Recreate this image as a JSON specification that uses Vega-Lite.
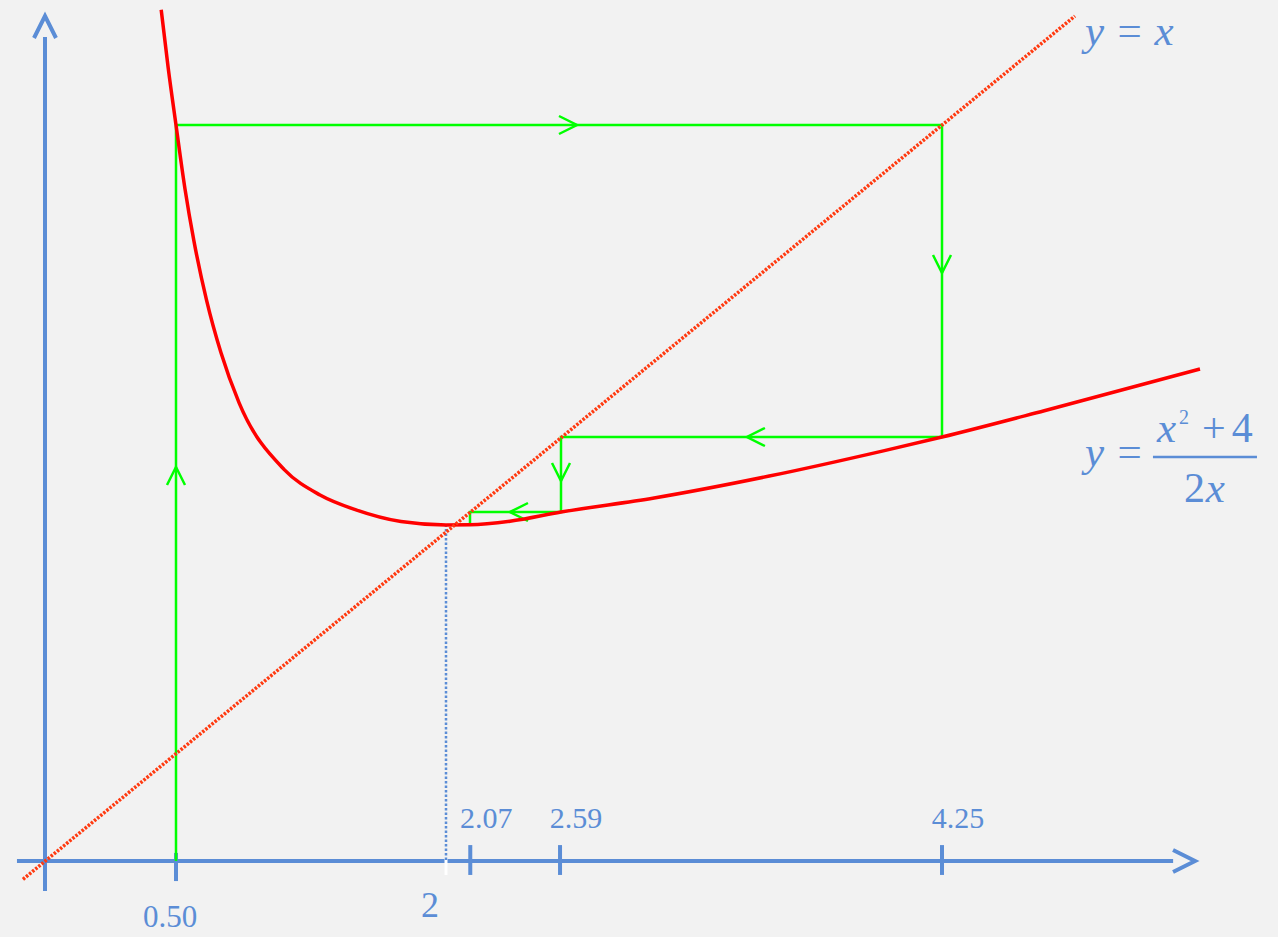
{
  "$schema": "https://vega.github.io/schema/vega-lite/v6.json",
  "width": 1278,
  "height": 937,
  "autosize": {"type": "none"},
  "padding": 0,
  "background": "#f2f2f2",
  "config": {"view": {"stroke": null}},
  "encoding": {
    "x": {
      "field": "x",
      "type": "quantitative",
      "axis": null,
      "scale": {
        "domain": [0, 0.5, 2, 2.0684, 2.5956, 4.25, 5.133],
        "range": [45, 176, 446, 470, 561, 942, 1200],
        "nice": false,
        "zero": false
      }
    },
    "y": {
      "field": "y",
      "type": "quantitative",
      "axis": null,
      "scale": {
        "domain": [0, 0.5, 2, 2.0684, 2.5956, 4.25, 4.705],
        "range": [861, 752, 525, 512, 437, 125, 16],
        "nice": false,
        "zero": false
      }
    }
  },
  "layer": [
    {
      "description": "coordinate axes",
      "data": {"values": [
        {"x": -0.107, "y": 0, "x2": 5.041, "y2": 0},
        {"x": 0, "y": -0.138, "x2": 0, "y2": 4.617}
      ]},
      "mark": {"type": "rule", "color": "#5b8dd6", "strokeWidth": 4},
      "encoding": {"x2": {"field": "x2"}, "y2": {"field": "y2"}}
    },
    {
      "description": "tick marks on the x axis",
      "data": {"values": [
        {"x": 0.5, "y": -0.092, "y2": 0.037},
        {"x": 2.07, "y": -0.064, "y2": 0.073},
        {"x": 2.59, "y": -0.064, "y2": 0.073},
        {"x": 4.25, "y": -0.064, "y2": 0.073}
      ]},
      "mark": {"type": "rule", "color": "#5b8dd6", "strokeWidth": 4},
      "encoding": {"y2": {"field": "y2"}}
    },
    {
      "description": "x axis arrowhead",
      "data": {"values": [{"x": 5.116, "y": 0}]},
      "mark": {"type": "point", "shape": "M-1,-0.5L0,0L-1,0.5", "size": 1936, "filled": false, "opacity": 1, "stroke": "#5b8dd6", "strokeWidth": 4, "angle": 0}
    },
    {
      "description": "y axis arrowhead",
      "data": {"values": [{"x": 0, "y": 4.705}]},
      "mark": {"type": "point", "shape": "M-1,-0.5L0,0L-1,0.5", "size": 1936, "filled": false, "opacity": 1, "stroke": "#5b8dd6", "strokeWidth": 4, "angle": 270}
    },
    {
      "description": "gap in the x axis under the fixed point",
      "data": {"values": [{"x": 2, "y": -0.064, "y2": 0.014}]},
      "mark": {"type": "rule", "color": "#ffffff", "strokeWidth": 3},
      "encoding": {"y2": {"field": "y2"}}
    },
    {
      "description": "dotted drop line from the fixed point",
      "data": {"values": [{"x": 2, "y": 0.005, "y2": 2}]},
      "mark": {"type": "rule", "color": "#5b8dd6", "strokeWidth": 2.5, "strokeDash": [2.5, 2]},
      "encoding": {"y2": {"field": "y2"}}
    },
    {
      "description": "cobweb of the iteration x -> (x^2+4)/(2x) starting at 0.5",
      "data": {"values": [
        {"i": 0, "x": 0.5, "y": 0},
        {"i": 1, "x": 0.5, "y": 4.25},
        {"i": 2, "x": 4.25, "y": 4.25},
        {"i": 3, "x": 4.25, "y": 2.5956},
        {"i": 4, "x": 2.5956, "y": 2.5956},
        {"i": 5, "x": 2.5956, "y": 2.0684},
        {"i": 6, "x": 2.0684, "y": 2.0684},
        {"i": 7, "x": 2.0684, "y": 2.0011},
        {"i": 8, "x": 2.03, "y": 2.0011}
      ]},
      "mark": {"type": "line", "color": "#00ff00", "strokeWidth": 2.5},
      "encoding": {"order": {"field": "i", "type": "quantitative"}}
    },
    {
      "description": "cobweb arrow pointing right",
      "data": {"values": [{"x": 2.665, "y": 4.25}]},
      "mark": {"type": "point", "shape": "M-1,-0.5L0,0L-1,0.5", "size": 1296, "filled": false, "opacity": 1, "stroke": "#00ff00", "strokeWidth": 2.5, "angle": 0}
    },
    {
      "description": "cobweb arrows pointing down",
      "data": {"values": [{"x": 4.25, "y": 3.465}, {"x": 2.5956, "y": 2.286}]},
      "mark": {"type": "point", "shape": "M-1,-0.5L0,0L-1,0.5", "size": 1296, "filled": false, "opacity": 1, "stroke": "#00ff00", "strokeWidth": 2.5, "angle": 90}
    },
    {
      "description": "cobweb arrows pointing left",
      "data": {"values": [{"x": 3.403, "y": 2.5956}, {"x": 2.3, "y": 2.0684}]},
      "mark": {"type": "point", "shape": "M-1,-0.5L0,0L-1,0.5", "size": 1296, "filled": false, "opacity": 1, "stroke": "#00ff00", "strokeWidth": 2.5, "angle": 180}
    },
    {
      "description": "cobweb arrow pointing up",
      "data": {"values": [{"x": 0.5, "y": 2.385}]},
      "mark": {"type": "point", "shape": "M-1,-0.5L0,0L-1,0.5", "size": 1296, "filled": false, "opacity": 1, "stroke": "#00ff00", "strokeWidth": 2.5, "angle": 270}
    },
    {
      "description": "y = (x^2 + 4) / (2x)",
      "data": {"values": [
        {"x": 0.4435, "y": 4.731},
        {"x": 0.47, "y": 4.49},
        {"x": 0.5, "y": 4.25},
        {"x": 0.55, "y": 3.911},
        {"x": 0.6, "y": 3.633},
        {"x": 0.67, "y": 3.32},
        {"x": 0.75, "y": 3.042},
        {"x": 0.85, "y": 2.778},
        {"x": 1.1, "y": 2.368},
        {"x": 1.3, "y": 2.188},
        {"x": 1.5, "y": 2.083},
        {"x": 1.75, "y": 2.018},
        {"x": 2.0, "y": 2.0},
        {"x": 2.0684, "y": 2.0011},
        {"x": 2.3, "y": 2.02},
        {"x": 2.5956, "y": 2.0683},
        {"x": 3.0, "y": 2.167},
        {"x": 3.5, "y": 2.321},
        {"x": 4.0, "y": 2.5},
        {"x": 4.25, "y": 2.5956},
        {"x": 4.6, "y": 2.735},
        {"x": 5.133, "y": 2.956}
      ]},
      "mark": {"type": "line", "color": "#ff0000", "strokeWidth": 3.5, "interpolate": "monotone"},
      "encoding": {}
    },
    {
      "description": "y = x",
      "data": {"values": [{"x": -0.084, "y": -0.084}, {"x": 4.705, "y": 4.705}]},
      "mark": {"type": "line", "color": "#ff3a10", "strokeWidth": 3.5, "strokeDash": [2.5, 1.5]},
      "encoding": {}
    },
    {
      "description": "fraction bar",
      "data": {"values": [{"x": 4.972, "x2": 5.328, "y": 2.455}]},
      "mark": {"type": "rule", "color": "#5b8dd6", "strokeWidth": 2.5},
      "encoding": {"x2": {"field": "x2"}}
    },
    {
      "description": "tick labels above the axis",
      "data": {"values": [
        {"x": 2.07, "y": 0, "label": "2.07"},
        {"x": 2.59, "y": 0, "label": "2.59"},
        {"x": 4.25, "y": 0, "label": "4.25"}
      ]},
      "mark": {"type": "text", "font": "Liberation Serif", "fontSize": 30, "color": "#5b8dd6", "align": "center", "baseline": "alphabetic", "dx": 16, "dy": -33},
      "encoding": {"text": {"field": "label"}}
    },
    {
      "description": "starting value label",
      "data": {"values": [{"x": 0.5, "y": 0, "label": "0.50"}]},
      "mark": {"type": "text", "font": "Liberation Serif", "fontSize": 31, "color": "#5b8dd6", "align": "center", "baseline": "alphabetic", "dx": -6, "dy": 66},
      "encoding": {"text": {"field": "label"}}
    },
    {
      "description": "fixed point label",
      "data": {"values": [{"x": 2, "y": 0, "label": "2"}]},
      "mark": {"type": "text", "font": "Liberation Serif", "fontSize": 36, "color": "#5b8dd6", "align": "center", "baseline": "alphabetic", "dx": -16, "dy": 56},
      "encoding": {"text": {"field": "label"}}
    },
    {
      "description": "equation text, italic variables",
      "data": {"values": [
        {"x": 4.739, "y": 4.584, "label": "y = x"},
        {"x": 4.739, "y": 2.392, "label": "y ="},
        {"x": 4.986, "y": 2.56, "label": "x"},
        {"x": 5.153, "y": 2.139, "label": "x"}
      ]},
      "mark": {"type": "text", "font": "Liberation Serif", "fontSize": 43, "fontStyle": "italic", "color": "#5b8dd6", "align": "left", "baseline": "alphabetic"},
      "encoding": {"text": {"field": "label"}}
    },
    {
      "description": "equation text, upright symbols",
      "data": {"values": [
        {"x": 5.14, "y": 2.56, "label": "+"},
        {"x": 5.242, "y": 2.56, "label": "4"},
        {"x": 5.078, "y": 2.139, "label": "2"}
      ]},
      "mark": {"type": "text", "font": "Liberation Serif", "fontSize": 42, "color": "#5b8dd6", "align": "left", "baseline": "alphabetic"},
      "encoding": {"text": {"field": "label"}}
    },
    {
      "description": "exponent",
      "data": {"values": [{"x": 5.061, "y": 2.665, "label": "2"}]},
      "mark": {"type": "text", "font": "Liberation Serif", "fontSize": 20, "color": "#5b8dd6", "align": "left", "baseline": "alphabetic"},
      "encoding": {"text": {"field": "label"}}
    }
  ]
}
